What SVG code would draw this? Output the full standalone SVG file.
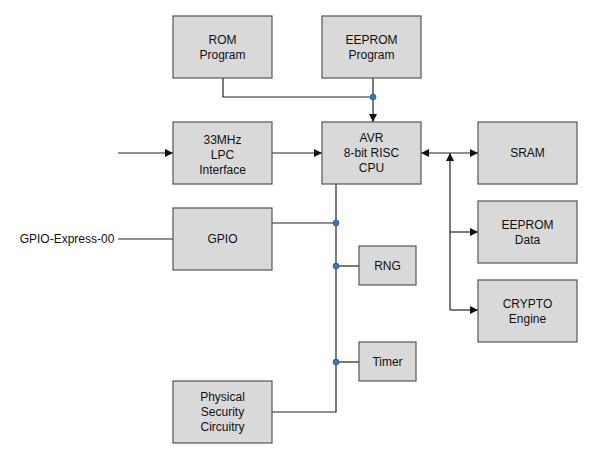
<svg xmlns="http://www.w3.org/2000/svg" width="600" height="461" viewBox="0 0 600 461">
<style>
.b{fill:#d9d9d9;stroke:#555;stroke-width:1.2}
.t{font-family:"Liberation Sans",Arial,sans-serif;font-size:12px;fill:#111;text-anchor:middle}
.l{fill:none;stroke:#222;stroke-width:1.2}
.d{fill:#2f78c8;stroke:#1a4f8a;stroke-width:0.6}
</style>
<defs><marker id="a" viewBox="0 0 10 10" refX="10" refY="5" markerWidth="8" markerHeight="8" markerUnits="userSpaceOnUse" orient="auto-start-reverse"><path d="M0,0L10,5L0,10z" fill="#111"/></marker></defs>
<rect width="600" height="461" fill="#fff"/>
<g id="connectors">
<path class="l" d="M223,78V97H373"/>
<path class="l" d="M373,78V122" marker-end="url(#a)"/>
<path class="l" d="M118,153H173" marker-end="url(#a)"/>
<path class="l" d="M272,153H322" marker-end="url(#a)"/>
<path class="l" d="M421,153H478" marker-start="url(#a)" marker-end="url(#a)"/>
<path class="l" d="M450,310V153" marker-end="url(#a)"/>
<path class="l" d="M450,232H478" marker-end="url(#a)"/>
<path class="l" d="M450,310H478" marker-end="url(#a)"/>
<path class="l" d="M118,239H173"/>
<path class="l" d="M272,223H336"/>
<path class="l" d="M336,184V412H272"/>
<path class="l" d="M336,266H359"/>
<path class="l" d="M336,362H359"/>
<circle class="d" cx="373" cy="97" r="3"/>
<circle class="d" cx="336" cy="223" r="3"/>
<circle class="d" cx="336" cy="266" r="3"/>
<circle class="d" cx="336" cy="362" r="3"/>
</g>
<g id="rom"><rect class="b" x="173" y="16" width="99" height="62"/><text class="t" x="222.5" y="44">ROM</text><text class="t" x="222.5" y="59">Program</text></g>
<g id="eeprom-prog"><rect class="b" x="322" y="16" width="99" height="62"/><text class="t" x="371.5" y="44">EEPROM</text><text class="t" x="371.5" y="59">Program</text></g>
<g id="lpc"><rect class="b" x="173" y="122" width="99" height="62"/><text class="t" x="222.5" y="144">33MHz</text><text class="t" x="222.5" y="159">LPC</text><text class="t" x="222.5" y="174">Interface</text></g>
<g id="cpu"><rect class="b" x="322" y="122" width="99" height="62"/><text class="t" x="371.5" y="142">AVR</text><text class="t" x="371.5" y="157">8-bit RISC</text><text class="t" x="371.5" y="172">CPU</text></g>
<g id="sram"><rect class="b" x="478" y="122" width="99" height="62"/><text class="t" x="527.5" y="157">SRAM</text></g>
<g id="eeprom-data"><rect class="b" x="478" y="201" width="99" height="62"/><text class="t" x="527.5" y="229">EEPROM</text><text class="t" x="527.5" y="244">Data</text></g>
<g id="crypto"><rect class="b" x="478" y="280" width="99" height="62"/><text class="t" x="527.5" y="308">CRYPTO</text><text class="t" x="527.5" y="323">Engine</text></g>
<g id="gpio-label"><text class="t" x="67" y="243">GPIO-Express-00</text></g>
<g id="gpio"><rect class="b" x="173" y="208" width="99" height="62"/><text class="t" x="222.5" y="243">GPIO</text></g>
<g id="rng"><rect class="b" x="359" y="246" width="57" height="39"/><text class="t" x="387.5" y="270">RNG</text></g>
<g id="timer"><rect class="b" x="359" y="342" width="57" height="39"/><text class="t" x="387.5" y="366">Timer</text></g>
<g id="phys"><rect class="b" x="173" y="381" width="99" height="62"/><text class="t" x="222.5" y="401">Physical</text><text class="t" x="222.5" y="416">Security</text><text class="t" x="222.5" y="431">Circuitry</text></g>
</svg>
